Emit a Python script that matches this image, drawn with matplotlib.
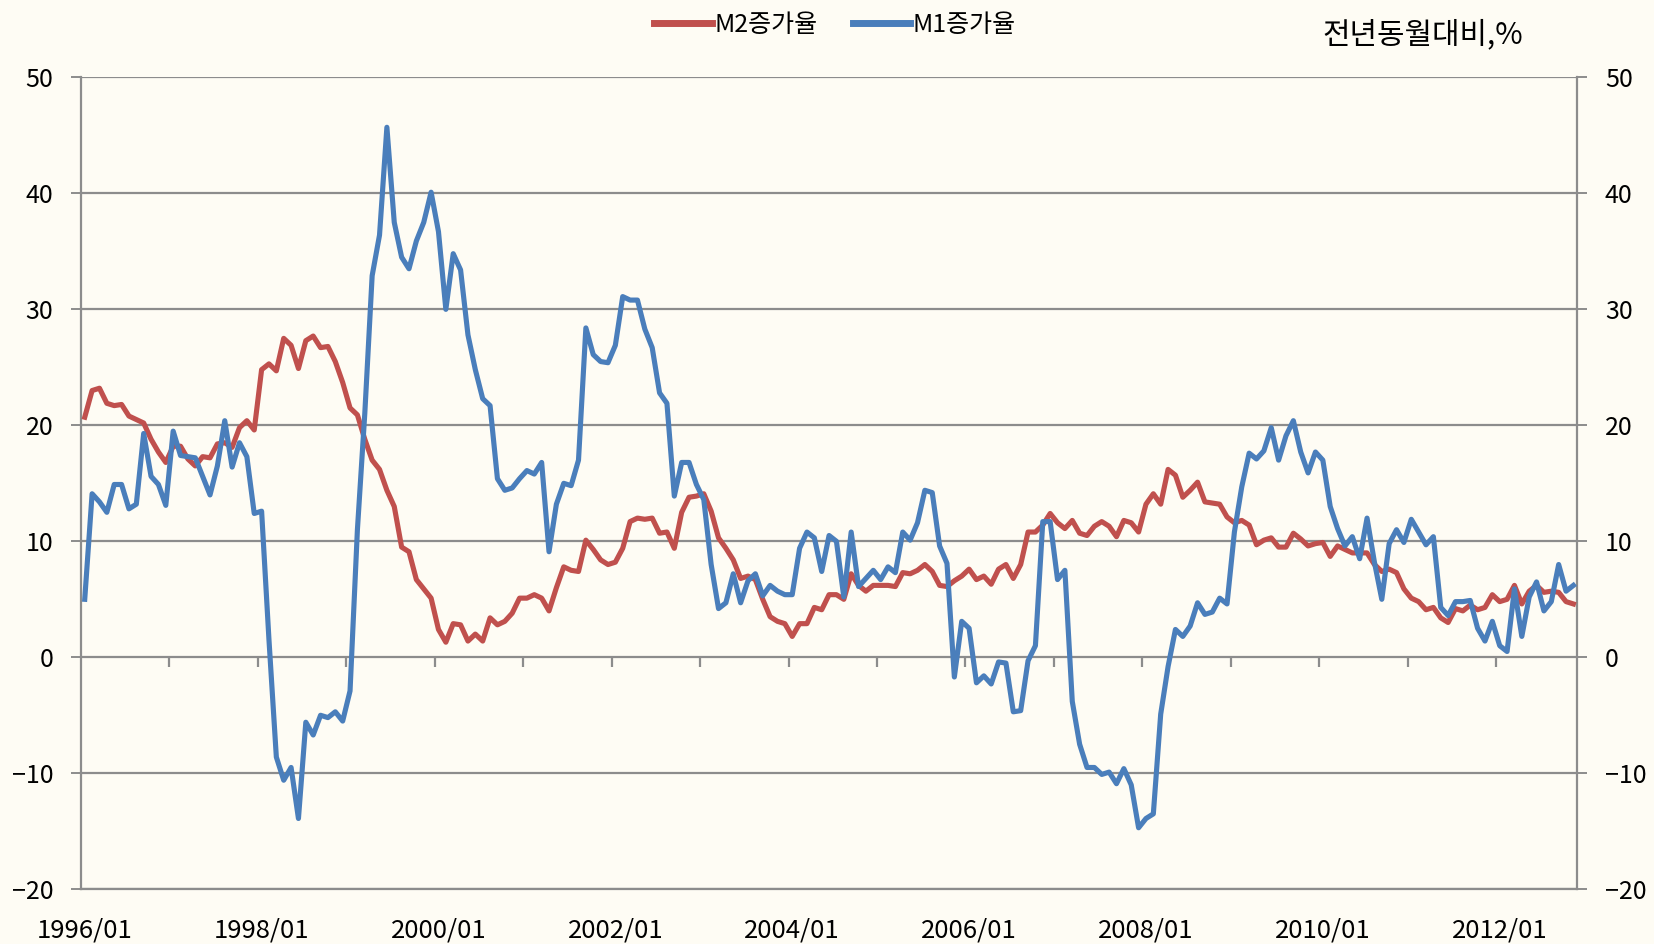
import matplotlib
matplotlib.use("Agg")
import matplotlib.pyplot as plt
import numpy as np

plt.rcParams['font.family'] = ['Noto Sans CJK KR', 'DejaVu Sans']

start_year = 1996
m2 = [20.7, 23.0, 23.2, 21.9, 21.7, 21.8, 20.8, 20.5, 20.2, 18.8, 17.7, 16.8,
      18.2, 18.2, 17.1, 16.5, 17.3, 17.2, 18.4, 18.5, 18.1, 19.8, 20.4, 19.6,
      24.8, 25.3, 24.7, 27.5, 26.9, 24.9, 27.3, 27.7, 26.7, 26.8, 25.5, 23.7,
      21.5, 20.9, 18.8, 17.0, 16.2, 14.4, 13.0, 9.5, 9.1, 6.7, 5.9, 5.1,
      2.4, 1.3, 2.9, 2.8, 1.4, 2.0, 1.4, 3.4, 2.8, 3.1, 3.8, 5.1,
      5.1, 5.4, 5.1, 4.0, 6.0, 7.8, 7.5, 7.4, 10.1, 9.3, 8.4, 8.0,
      8.2, 9.4, 11.7, 12.0, 11.9, 12.0, 10.7, 10.8, 9.4, 12.5, 13.8, 13.9,
      14.1, 12.6, 10.3, 9.4, 8.4, 6.8, 7.0, 6.7, 5.0, 3.5, 3.1, 2.9,
      1.8, 2.9, 2.9, 4.3, 4.1, 5.4, 5.4, 5.0, 7.2, 6.2, 5.7, 6.2,
      6.2, 6.2, 6.1, 7.3, 7.2, 7.5, 8.0, 7.4, 6.2, 6.1, 6.6, 7.0,
      7.6, 6.7, 7.0, 6.3, 7.6, 8.0, 6.8, 8.0, 10.8, 10.8, 11.4, 12.4,
      11.6, 11.1, 11.8, 10.7, 10.5, 11.3, 11.7, 11.3, 10.4, 11.8, 11.6, 10.8,
      13.2, 14.1, 13.2, 16.2, 15.7, 13.8, 14.4, 15.1, 13.4, 13.3, 13.2, 12.1,
      11.6, 11.8, 11.4, 9.7, 10.1, 10.3, 9.5, 9.5, 10.7, 10.2, 9.6, 9.8,
      9.9, 8.7, 9.6, 9.3, 9.0, 9.0, 9.0, 8.0, 7.4, 7.6, 7.3, 5.9,
      5.1, 4.8, 4.1, 4.3, 3.4, 3.0, 4.2, 4.0, 4.5, 4.1, 4.3, 5.4,
      4.8, 5.0, 6.2, 4.6, 5.7, 6.2, 5.6, 5.7, 5.6, 4.8, 4.6]
m1 = [5.0, 14.1, 13.4, 12.5, 14.9, 14.9, 12.8, 13.2, 19.3, 15.6, 14.9, 13.1,
      19.5, 17.4, 17.3, 17.2, 15.6, 14.0, 16.5, 20.4, 16.4, 18.5, 17.3, 12.4,
      12.6, 1.5, -8.6, -10.6, -9.5, -13.9, -5.6, -6.7, -5.0, -5.2, -4.7, -5.5,
      -2.9, 11.0, 21.0, 32.9, 36.4, 45.7, 37.5, 34.5, 33.5, 35.9, 37.5, 40.1,
      36.7, 30.0, 34.8, 33.4, 27.8, 24.8, 22.3, 21.7, 15.4, 14.4, 14.6, 15.4,
      16.1, 15.8, 16.8, 9.1, 13.2, 15.0, 14.8, 17.0, 28.4, 26.1, 25.5, 25.4,
      26.9, 31.1, 30.8, 30.8, 28.3, 26.7, 22.8, 21.9, 13.9, 16.8, 16.8, 14.9,
      13.6, 8.0, 4.2, 4.7, 7.2, 4.7, 6.6, 7.2, 5.3, 6.2, 5.7, 5.4,
      5.4, 9.4, 10.8, 10.3, 7.4, 10.5, 10.0, 5.2, 10.8, 6.1, 6.8, 7.5,
      6.7, 7.8, 7.3, 10.8, 10.1, 11.6, 14.4, 14.2, 9.6, 8.1, -1.7, 3.1,
      2.5, -2.2, -1.6, -2.3, -0.4, -0.5, -4.7, -4.6, -0.3, 1.0, 11.7, 11.7,
      6.7, 7.5, -3.8, -7.5, -9.5, -9.5, -10.1, -9.9, -10.9, -9.6, -11.0, -14.7,
      -13.9, -13.5, -4.9, -0.8, 2.4, 1.8, 2.7, 4.7, 3.7, 3.9, 5.1, 4.6,
      10.8, 14.7, 17.6, 17.1, 17.8, 19.8, 17.0, 19.1, 20.4, 17.7, 15.9, 17.7,
      17.0, 13.0, 11.1, 9.6, 10.4, 8.5, 12.0, 8.2, 5.0, 9.8, 11.0, 9.9,
      11.9, 10.8, 9.7, 10.4, 4.3, 3.6, 4.8, 4.8, 4.9, 2.5, 1.4, 3.1,
      1.0, 0.5, 5.9, 1.8, 5.2, 6.5, 4.0, 4.8, 8.0, 5.7, 6.2]
yticks = [50, 40, 30, 20, 10, 0, -10, -20]
label_years = list(range(1996, 2013, 2))

bg = '#FEFCF4'
grid_c = '#8C8C8C'
red = '#C0504D'
blue = '#4A7EBB'

n = len(m2)
x = np.arange(n)

fig = plt.figure(figsize=(16.54, 9.44), dpi=100, facecolor=bg)
ax = fig.add_axes([0.049, 0.058, 0.9045, 0.860])
ax.set_facecolor(bg)

ax.plot(x, m2, color=red, lw=3.7, solid_joinstyle='round', label='M2증가율', zorder=3)
ax.plot(x, m1, color=blue, lw=3.7, solid_joinstyle='round', label='M1증가율', zorder=4)

ax.set_xlim(-0.5, n - 0.5)
ax.set_ylim(-20, 50)
ax.set_yticks(yticks)
ax.yaxis.grid(True, color=grid_c, lw=1.6)
ax.set_axisbelow(True)
for s in ['left', 'right', 'bottom', 'top']:
    ax.spines[s].set_color(grid_c)
    ax.spines[s].set_linewidth(1.6)
ax.spines['top'].set_visible(False)

ax.tick_params(axis='y', length=7, width=1.4, color=grid_c, labelsize=18, pad=13,
               labelcolor='#000000')

# x labels
lab_pos = [(yy - start_year) * 12 for yy in label_years]
ax.set_xticks(lab_pos)
ax.set_xticklabels([f'{yy}/01' for yy in label_years])
ax.tick_params(axis='x', length=0, labelsize=18.5, pad=20)

# category tick marks on the zero line (Excel style)
tick_pos = [12 * k - 0.5 for k in range(1, n // 12 + 1)]
ax.vlines(tick_pos, -0.85, 0, color=grid_c, lw=1.6, zorder=2)

ax2 = ax.twinx()
ax2.set_ylim(-20, 50)
ax2.set_yticks(yticks)
ax2.tick_params(axis='y', length=7, width=1.4, color=grid_c, labelsize=18, pad=13)
for s in ['left', 'right', 'bottom', 'top']:
    ax2.spines[s].set_visible(False)

fig.text(0.860, 0.963, '전년동월대비,%', fontsize=21.5, ha='center', va='center')

leg = ax.legend(loc='upper center', bbox_to_anchor=(0.504, 1.108), ncol=2, frameon=False,
                fontsize=18, handlelength=2.3, handletextpad=0.1, columnspacing=1.4)
for h in leg.get_lines():
    h.set_linewidth(5)

fig.savefig('out.png', dpi=100, facecolor=bg)
